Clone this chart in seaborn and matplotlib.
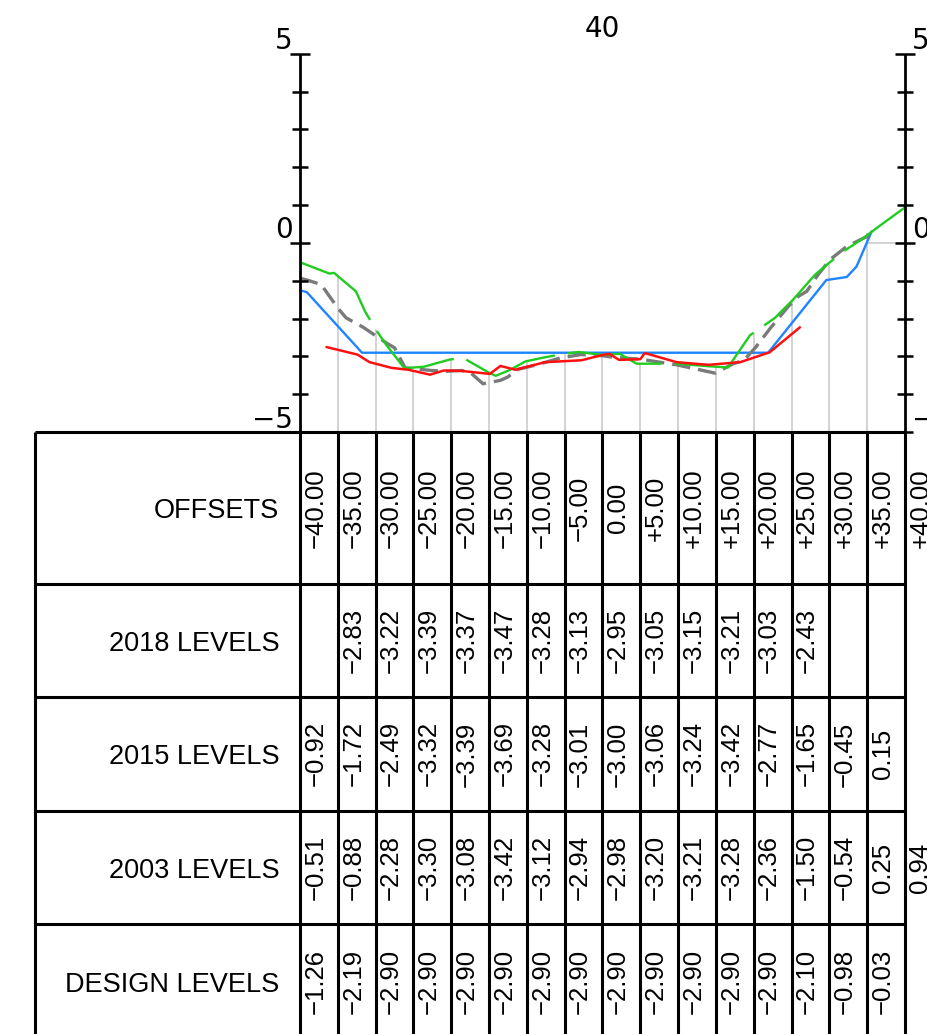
import numpy as np
import pandas as pd
import matplotlib
matplotlib.use('Agg')
import matplotlib.pyplot as plt
import seaborn as sns

# table stations (m from centreline)
offsets=[-40, -35, -30, -25, -20, -15, -10, -5, 0, 5, 10, 15, 20, 25, 30, 35, 40]

# tabulated levels, None = no reading at that station
lev_2018=[None, -2.83, -3.22, -3.39, -3.37, -3.47, -3.28, -3.13, -2.95, -3.05, -3.15, -3.21, -3.03, -2.43, None, None, None]
lev_2015=[-0.92, -1.72, -2.49, -3.32, -3.39, -3.69, -3.28, -3.01, -3.00, -3.06, -3.24, -3.42, -2.77, -1.65, -0.45, 0.15, None]
lev_2003=[-0.51, -0.88, -2.28, -3.30, -3.08, -3.42, -3.12, -2.94, -2.98, -3.20, -3.21, -3.28, -2.36, -1.50, -0.54, 0.25, 0.94]
lev_design=[-1.26, -2.19, -2.90, -2.90, -2.90, -2.90, -2.90, -2.90, -2.90, -2.90, -2.90, -2.90, -2.90, -2.10, -0.98, -0.03, None]

row_labels=['OFFSETS', '2018 LEVELS', '2015 LEVELS', '2003 LEVELS', 'DESIGN LEVELS']

# surveyed profiles as drawn on the section
x_2003=[-40, -36.1, -35.5, -32.6, -31.4, -30.0, -28.6, -26.2, -23.6, -20.2, -18.4, -14.9, -14.1, -12.2,
        -10.2, -7.6, -5.6, -3.2, 0, 2.3, 4.5, 9.8, 14.2, 16.6, 18.4, 19.5, 22.8, 25.1, 28.1, 30.0,
        32.1, 34.1, 36.7, 40]
y_2003=[-0.51, -0.81, -0.79, -1.28, -1.81, -2.28, -2.69, -3.31, -3.27, -3.08, -3.04, -3.44, -3.51, -3.35,
        -3.13, -3.02, -2.95, -2.88, -2.96, -2.93, -3.19, -3.19, -3.26, -3.29, -2.76, -2.44, -1.98, -1.52,
        -0.84, -0.52, -0.19, 0.07, 0.46, 0.94]

x_2015=[-40, -38.9, -37.2, -35, -33.9, -31.7, -28.6, -27.5, -26.1, -22.6, -20.6, -18.6, -17.5, -15.8,
        -13.5, -12.5, -11.4, -8.7, -5.6, -2.9, 0, 1.4, 5, 9.8, 14.9, 17.3, 18.7, 20.2, 22.2, 24.6, 25.9,
        27.0, 28.5, 30.1, 32.3, 35.5]
y_2015=[-0.93, -0.99, -1.10, -1.72, -1.98, -2.22, -2.64, -2.77, -3.30, -3.37, -3.39, -3.37, -3.42, -3.72,
        -3.63, -3.54, -3.35, -3.22, -3.04, -2.95, -2.98, -3.02, -3.07, -3.22, -3.44, -3.19, -3.10, -2.77,
        -2.25, -1.67, -1.41, -1.28, -0.84, -0.44, -0.09, 0.22]

x_2018=[-36.5, -32.4, -30.8, -27.9, -25.7, -22.8, -21.0, -18.7, -14.9, -13.5, -11.5, -7.6, -2.8, 0, 0.9,
        2.2, 5, 5.6, 9.8, 14, 18.2, 22.1, 26.1]
y_2018=[-2.75, -2.95, -3.15, -3.30, -3.35, -3.48, -3.37, -3.38, -3.46, -3.25, -3.35, -3.15, -3.10, -2.96,
        -2.93, -3.09, -3.07, -2.91, -3.15, -3.22, -3.15, -2.89, -2.23]

x_design=[-40, -39.1, -31.8, 21.9, 29.6, 32.3, 33.6, 35.6]
y_design=[-1.25, -1.30, -2.90, -2.90, -0.98, -0.90, -0.62, 0.31]

y_ticks=[5, 4, 3, 2, 1, 0, -1, -2, -3, -4, -5]
major_ticks=[5, 0]

# drawing scale (pixels per metre) of the original sheet
PXX=7.5625
PXY=37.85
X0, Y5, YM5=300, 53.7, 432.2
W, H=928, 1034

sns.set_style('white')
plt.rcParams['font.family']=['DejaVu Sans']
plt.rcParams['text.color']='black'

fig=plt.figure(figsize=(W/100, H/100), dpi=100)
ax=fig.add_axes([0, 0, 1, 1])
ax.set_xlim(-40-X0/PXX, -40+(W-X0)/PXX)
ax.set_ylim(-5-(H-YM5)/PXY, 5+Y5/PXY)
ax.axis('off')

# thin station lines up to the 2003 ground
st=[(o, v) for o, v in zip(offsets, lev_2003) if abs(o)<40]
ax.vlines([o for o, _ in st], -5, [v for _, v in st], color='#c8c8c8', lw=1.1, zorder=1)
ax.hlines(0, 35, 40, color='#c8c8c8', lw=1.1, zorder=1)

profiles=[
    ('Design', x_design, y_design, '#1e84ff', 1.7, '-'),
    ('2015', x_2015, y_2015, '#7a7a7a', 2.4, (0, (5.5, 2.4))),
    ('2003', x_2003, y_2003, '#1fcc1f', 1.7, (0, (41, 5.5))),
    ('2018', x_2018, y_2018, '#ff1010', 1.8, '-'),
]
for name, xs, ys, col, lw, ls in profiles:
    df=pd.DataFrame({'offset': xs, 'level': ys})
    sns.lineplot(data=df, x='offset', y='level', ax=ax, sort=False, estimator=None,
                 color=col, lw=lw, linestyle=ls, legend=False, zorder=3)

# vertical scales both sides
for side in (-40, 40):
    ax.vlines(side, -5, 5, color='black', lw=2.0, zorder=4)
    for t in y_ticks:
        L=(10 if t in major_ticks else 8)/PXX
        ax.hlines(t, side-L, side+L, color='black', lw=1.8, zorder=4)

tick_fs=20
for t in (5, 0, -5):
    lab=str(t).replace('-', '\u2212')
    ax.text(-40-7/PXX, t+4.5/PXY, lab, ha='right', va='baseline', fontsize=tick_fs)
    ax.text(40+7/PXX, t+4.5/PXY, lab, ha='left', va='baseline', fontsize=tick_fs, clip_on=False)
ax.text(0, 5+16.5/PXY, '40', ha='center', va='baseline', fontsize=tick_fs)

# data table under the section
row_edges=[-5, -9, -12, -15, -18, -21]
tab_left=-40-(X0-35)/PXX
ax.hlines(row_edges, tab_left, 40, color='black', lw=2.2, zorder=4)
ax.vlines([tab_left]+offsets, -5, row_edges[-1], color='black', lw=2.2, zorder=4)

tab_font=['Liberation Sans', 'DejaVu Sans']

def fmt_off(v):
    if v==0:
        return '0.00'
    return ('+' if v>0 else '\u2212')+f'{abs(v):.2f}'

def fmt_lev(v):
    return ('\u2212' if v<0 else '')+f'{abs(v):.2f}'

rows=[[fmt_off(o) for o in offsets]]
for lv in (lev_2018, lev_2015, lev_2003, lev_design):
    rows.append([None if v is None else fmt_lev(v) for v in lv])

for i, (lab, vals) in enumerate(zip(row_labels, rows)):
    yc=(row_edges[i]+row_edges[i+1])/2
    ax.text(-40-20.5/PXX, yc-10.5/PXY, lab, ha='right', va='baseline',
            fontsize=19.5, family=tab_font)
    for o, s in zip(offsets, vals):
        if s is None:
            continue
        ax.text(o+22.5/PXX, yc, s, rotation=90, rotation_mode='anchor',
                ha='center', va='baseline', fontsize=18.5, family=tab_font)

fig.savefig('out.png', dpi=100)
plt.close(fig)
